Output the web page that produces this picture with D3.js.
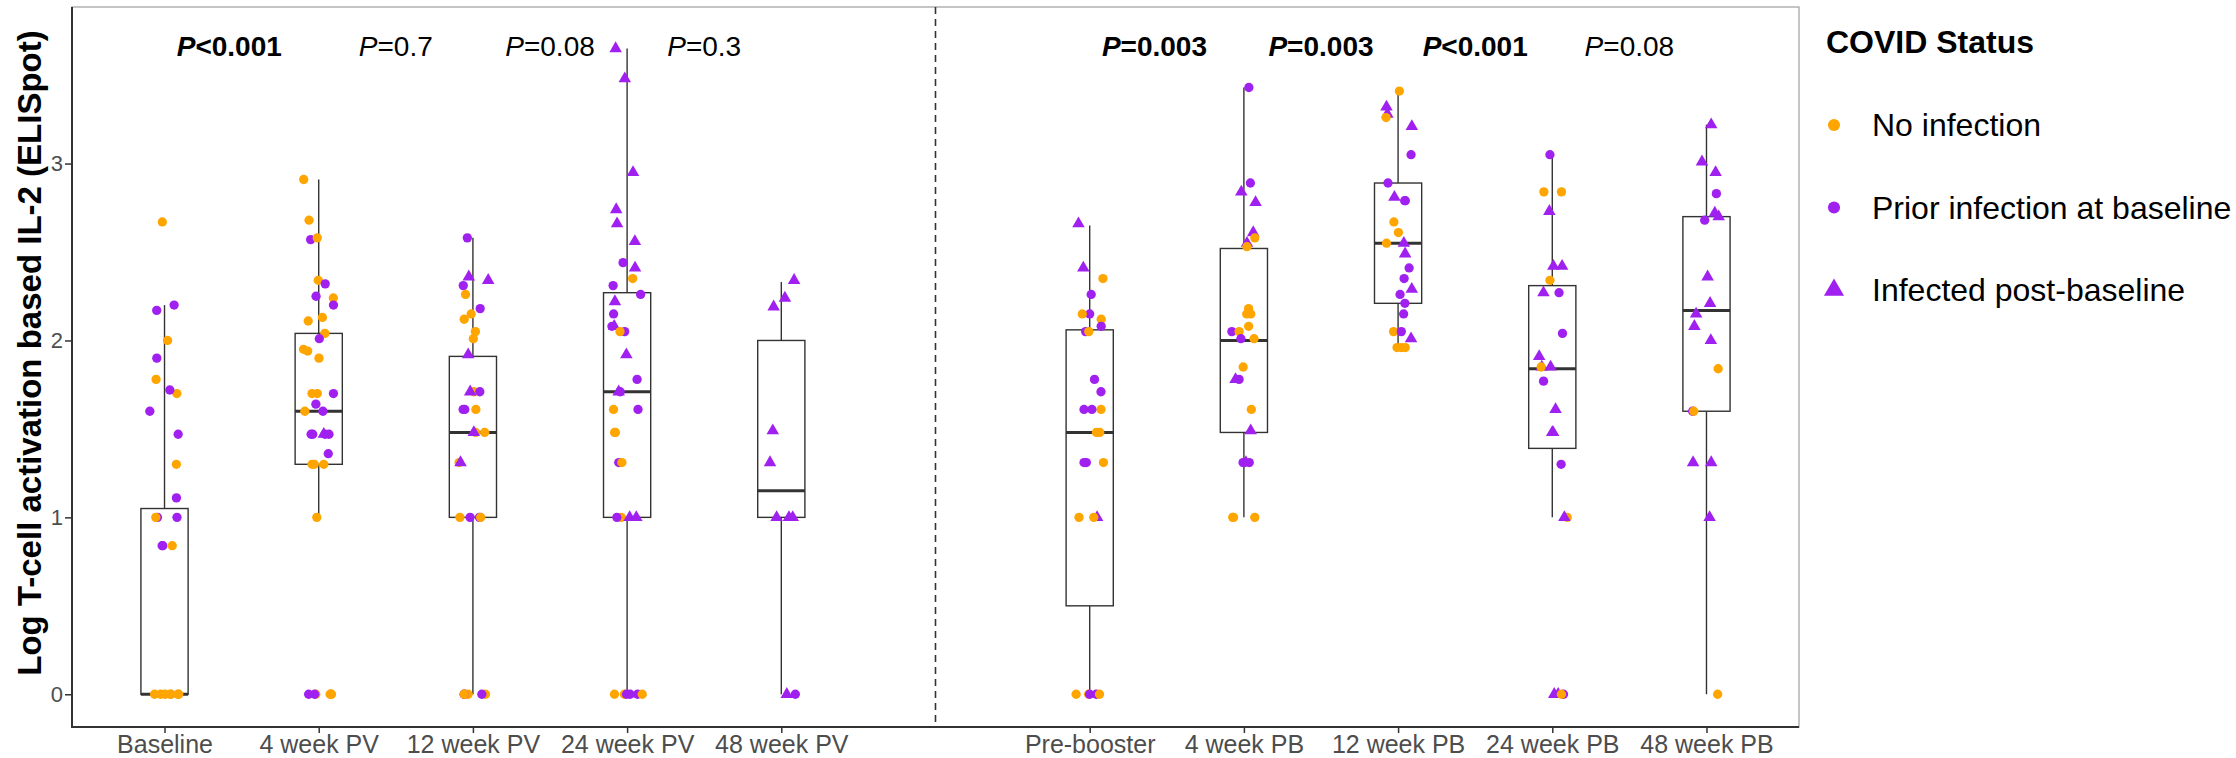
<!DOCTYPE html>
<html>
<head>
<meta charset="utf-8">
<script src="https://cdn.jsdelivr.net/npm/d3@7"></script>
<style>
  body { margin: 0; background: #fff; }
  text { font-family: "Liberation Sans", Arial, sans-serif; }
</style>
</head>
<body>
<svg id="chart" width="2236" height="758"></svg>
<script>
// x categories, 'gap' is the empty slot where the dashed line goes
var timepoints = ['Baseline', '4 week PV', '12 week PV', '24 week PV', '48 week PV', 'gap',
                  'Pre-booster', '4 week PB', '12 week PB', '24 week PB', '48 week PB'];
var groups = timepoints.filter(function(d) { return d !== 'gap'; });

// N = no infection, P = prior infection at baseline, T = infected post-baseline
var baselineVals = [['N',2.67],['P',2.20],['P',2.17],['N',2.00],['P',1.90],['N',1.78],['N',1.70],['P',1.72],
  ['P',1.60],['P',1.47],['N',1.30],['P',1.11],['P',1.00],['P',1.00],['N',1.00],['P',0.84],['P',0.84],['N',0.84],
  ['N',0],['N',0],['N',0],['N',0],['N',0],['N',0],['N',0]];
var pv4Vals = [['N',2.91],['N',2.68],['P',2.57],['N',2.58],['N',2.34],['P',2.32],['P',2.25],['N',2.24],['P',2.20],
  ['N',2.13],['N',2.11],['N',2.04],['P',2.01],['N',1.95],['N',1.94],['N',1.90],['N',1.70],['P',1.70],['N',1.70],
  ['P',1.64],['P',1.60],['N',1.60],['T',1.47],['P',1.47],['P',1.47],['P',1.47],['P',1.47],['P',1.36],['N',1.30],
  ['N',1.30],['N',1.30],['N',1.00],['P',0],['N',0],['N',0],['N',0],['N',0],['P',0]];
var pv12Vals = [['P',2.58],['T',2.36],['T',2.34],['P',2.31],['N',2.26],['P',2.18],['N',2.15],['N',2.12],['N',2.05],
  ['N',2.01],['T',1.92],['N',1.71],['T',1.71],['P',1.71],['P',1.61],['P',1.61],['N',1.61],['N',1.48],['N',1.48],
  ['T',1.48],['N',1.31],['T',1.31],['P',1.00],['P',1.00],['N',1.00],['N',1.00],['N',0],['N',0],['P',0],['N',0],
  ['P',0],['N',0]];
var pv24Vals = [['T',3.65],['T',3.48],['T',2.95],['T',2.74],['T',2.66],['T',2.56],['P',2.44],['T',2.41],['N',2.35],
  ['P',2.31],['P',2.26],['T',2.22],['P',2.15],['P',2.08],['T',2.08],['P',2.05],['N',2.05],['T',1.92],['P',1.78],
  ['T',1.71],['P',1.71],['P',1.61],['N',1.61],['N',1.48],['N',1.48],['P',1.31],['N',1.31],['N',1.00],['T',1.00],
  ['T',1.00],['P',1.00],['N',0],['N',0],['P',0],['P',0],['P',0],['N',0]];
var pv48Vals = [['T',2.34],['T',2.24],['T',2.19],['T',1.49],['T',1.31],['T',1.00],['T',1.00],['T',1.00],['T',0],['P',0]];
var preBoosterVals = [['T',2.66],['T',2.41],['N',2.35],['P',2.26],['P',2.15],['N',2.15],['N',2.12],['P',2.08],
  ['P',2.05],['N',2.05],['P',1.78],['P',1.71],['N',1.61],['P',1.61],['P',1.61],['N',1.48],['N',1.48],['P',1.31],
  ['P',1.31],['N',1.31],['T',1.00],['N',1.00],['N',1.00],['N',0],['P',0],['N',0],['N',0],['P',0]];
var pb4Vals = [['P',3.43],['P',2.89],['T',2.84],['T',2.78],['T',2.61],['N',2.58],['T',2.55],['N',2.53],['N',2.18],
  ['N',2.15],['N',2.15],['N',2.08],['P',2.05],['N',2.05],['N',2.01],['P',2.01],['N',1.85],['P',1.78],['T',1.78],
  ['N',1.61],['T',1.49],['T',1.31],['P',1.31],['P',1.31],['P',1.31],['N',1.00],['N',1.00],['N',1.00]];
var pb12Vals = [['N',3.41],['T',3.32],['T',3.28],['N',3.26],['T',3.21],['P',3.05],['P',2.89],['T',2.81],['P',2.79],
  ['P',2.79],['N',2.67],['N',2.61],['N',2.55],['T',2.55],['T',2.49],['P',2.41],['P',2.35],['T',2.29],['P',2.26],
  ['P',2.21],['P',2.15],['N',2.05],['P',2.05],['T',2.01],['N',1.96],['N',1.96],['N',1.96]];
var pb24Vals = [['P',3.05],['N',2.84],['N',2.84],['T',2.73],['T',2.42],['T',2.42],['N',2.34],['T',2.27],['P',2.27],
  ['P',2.04],['T',1.91],['T',1.85],['T',1.85],['N',1.85],['P',1.77],['T',1.61],['T',1.48],['T',1.48],['P',1.30],
  ['N',1.00],['T',1.00],['P',0],['T',0],['T',0],['N',0]];
var pb48Vals = [['T',3.22],['T',3.01],['T',2.95],['P',2.83],['T',2.72],['T',2.70],['P',2.68],['T',2.36],['T',2.21],
  ['T',2.15],['T',2.08],['T',2.00],['N',1.84],['P',1.60],['N',1.60],['T',1.31],['T',1.31],['T',1.00],['N',0]];

var groupVals = [baselineVals, pv4Vals, pv12Vals, pv24Vals, pv48Vals,
                 preBoosterVals, pb4Vals, pb12Vals, pb24Vals, pb48Vals];

// boxplot stats
var boxQ1     = [0,    1.30, 1.00, 1.00, 1.00, 0.50, 1.48, 2.21, 1.39, 1.60];
var boxMedian = [0,    1.60, 1.48, 1.71, 1.15, 1.48, 2.00, 2.55, 1.84, 2.17];
var boxQ3     = [1.05, 2.04, 1.91, 2.27, 2.00, 2.06, 2.52, 2.89, 2.31, 2.70];
var whiskLo   = [0,    1.00, 0,    0,    0,    0,    1.00, 1.96, 1.00, 0];
var whiskHi   = [2.20, 2.91, 2.58, 3.65, 2.33, 2.65, 3.43, 3.41, 3.05, 3.22];

var yTicks = [0, 1, 2, 3];

// p values between neighbouring timepoints
var pText = ['<0.001', '=0.7', '=0.08', '=0.3', '=0.003', '=0.003', '<0.001', '=0.08'];
var pBold = [true, false, false, false, true, true, true, false];
var pFrom = ['Baseline', '4 week PV', '12 week PV', '24 week PV', 'Pre-booster', '4 week PB', '12 week PB', '24 week PB'];
var pTo   = ['4 week PV', '12 week PV', '24 week PV', '48 week PV', '4 week PB', '12 week PB', '24 week PB', '48 week PB'];
var pLabelY = 3.61;

var statusKeys = ['N', 'P', 'T'];
var statusLabels = ['No infection', 'Prior infection at baseline', 'Infected post-baseline'];
var statusColors = ['#FFA500', '#A020F0', '#A020F0'];

// ---- layout (panel edges)
var padL = 72, padR = 1799, padT = 7, padB = 727;
var svg = d3.select('#chart');

svg.append('rect').attr('width', 2236).attr('height', 758).attr('fill', '#fff');

var x = d3.scalePoint().domain(timepoints).range([padL, padR]).padding(0.6);
var y = d3.scaleLinear().domain([-0.185, 3.885]).range([padB, padT]);
var color = d3.scaleOrdinal().domain(statusKeys).range(statusColors);
var boxHalf = x.step() * 0.153;
var jitterW = x.step() * 0.1;

// panel border
svg.append('rect')
    .attr('x', padL).attr('y', padT)
    .attr('width', padR - padL).attr('height', padB - padT)
    .attr('fill', 'none')
    .attr('stroke', '#a6a6a6')
    .attr('stroke-width', 1.3);

// dashed separator
svg.append('line')
    .attr('x1', x('gap')).attr('x2', x('gap'))
    .attr('y1', padT).attr('y2', padB)
    .attr('stroke', '#333')
    .attr('stroke-width', 1.6)
    .attr('stroke-dasharray', '7,5');

// axes
var yAxis = svg.append('g')
    .attr('transform', 'translate(' + padL + ',0)')
    .call(d3.axisLeft(y).tickValues(yTicks).tickSize(7).tickPadding(2).tickFormat(d3.format('d')));
var xAxis = svg.append('g')
    .attr('transform', 'translate(0,' + padB + ')')
    .call(d3.axisBottom(x).tickValues(groups).tickSize(6).tickPadding(2));

[yAxis, xAxis].forEach(function(ax) {
    ax.select('.domain').remove();
    ax.selectAll('line').attr('stroke', '#333').attr('stroke-width', 1.5);
    ax.selectAll('text')
        .attr('fill', '#4d4d4d')
        .style('font-family', '"Liberation Sans", Arial, sans-serif');
});
yAxis.selectAll('text').style('font-size', '22px');
xAxis.selectAll('text').style('font-size', '25px');

svg.append('line')
    .attr('x1', padL).attr('x2', padL).attr('y1', padT).attr('y2', padB + 1)
    .attr('stroke', '#333').attr('stroke-width', 2);
svg.append('line')
    .attr('x1', padL - 1).attr('x2', padR).attr('y1', padB).attr('y2', padB)
    .attr('stroke', '#333').attr('stroke-width', 2);

// y title
svg.append('text')
    .attr('transform', 'translate(41,353) rotate(-90)')
    .attr('text-anchor', 'middle')
    .style('font-size', '33px')
    .style('font-weight', 'bold')
    .attr('fill', '#000')
    .text('Log T-cell activation based IL-2 (ELISpot)');

// ---- boxplots
var boxes = svg.append('g').selectAll('g')
    .data(groups)
    .enter().append('g');

boxes.append('line')
    .attr('x1', function(d) { return x(d); })
    .attr('x2', function(d) { return x(d); })
    .attr('y1', function(d, i) { return y(whiskHi[i]); })
    .attr('y2', function(d, i) { return y(boxQ3[i]); })
    .attr('stroke', '#333').attr('stroke-width', 1.4);
boxes.append('line')
    .attr('x1', function(d) { return x(d); })
    .attr('x2', function(d) { return x(d); })
    .attr('y1', function(d, i) { return y(boxQ1[i]); })
    .attr('y2', function(d, i) { return y(whiskLo[i]); })
    .attr('stroke', '#333').attr('stroke-width', 1.4);
boxes.append('rect')
    .attr('x', function(d) { return x(d) - boxHalf; })
    .attr('y', function(d, i) { return y(boxQ3[i]); })
    .attr('width', boxHalf * 2)
    .attr('height', function(d, i) { return y(boxQ1[i]) - y(boxQ3[i]); })
    .attr('fill', '#fff')
    .attr('stroke', '#333').attr('stroke-width', 1.4);
boxes.append('line')
    .attr('x1', function(d) { return x(d) - boxHalf; })
    .attr('x2', function(d) { return x(d) + boxHalf; })
    .attr('y1', function(d, i) { return y(boxMedian[i]); })
    .attr('y2', function(d, i) { return y(boxMedian[i]); })
    .attr('stroke', '#333').attr('stroke-width', 3);

// ---- jittered points (seeded so it is the same each time)
var rnd = d3.randomUniform.source(d3.randomLcg(0.4217))(-1, 1);
var pts = [];
groupVals.forEach(function(vals, gi) {
    vals.forEach(function(v) {
        pts.push({ group: groups[gi], status: v[0], value: v[1], jit: rnd() * jitterW });
    });
});

var circleSym = d3.symbol().type(d3.symbolCircle).size(68);
var triSym = d3.symbol().type(d3.symbolTriangle).size(68);

svg.append('g').selectAll('path')
    .data(pts)
    .enter().append('path')
    .attr('d', function(d) { return d.status === 'T' ? triSym() : circleSym(); })
    .attr('transform', function(d) {
        return 'translate(' + (x(d.group) + d.jit) + ',' + y(d.value) + ')';
    })
    .attr('fill', function(d) { return color(d.status); });

// ---- p values
// the first label of each half sits a little left of the midpoint in the original
var pShift = function(i) { return (i === 0 || i === 4) ? -0.08 * x.step() : 0; };
var pLab = svg.append('g').selectAll('text')
    .data(pText)
    .enter().append('text')
    .attr('x', function(d, i) { return (x(pFrom[i]) + x(pTo[i])) / 2 + pShift(i); })
    .attr('y', y(pLabelY))
    .attr('text-anchor', 'middle')
    .style('font-size', '28px')
    .style('font-weight', function(d, i) { return pBold[i] ? 'bold' : 'normal'; });
pLab.append('tspan').style('font-style', 'italic').text('P');
pLab.append('tspan').text(function(d) { return d; });

// ---- legend
var lg = svg.append('g').attr('transform', 'translate(1826,0)');
lg.append('text')
    .attr('x', 0).attr('y', 53)
    .style('font-size', '32px')
    .style('font-weight', 'bold')
    .text('COVID Status');

var items = lg.selectAll('g.item')
    .data(statusKeys)
    .enter().append('g')
    .attr('class', 'item')
    .attr('transform', function(d, i) { return 'translate(0,' + (125 + i * 82.5) + ')'; });
items.append('path')
    .attr('d', function(d) {
        return d === 'T' ? d3.symbol().type(d3.symbolTriangle).size(175)()
                         : d3.symbol().type(d3.symbolCircle).size(115)();
    })
    .attr('transform', 'translate(8,0)')
    .attr('fill', function(d) { return color(d); });
items.append('text')
    .attr('x', 46).attr('y', 11)
    .style('font-size', '32px')
    .text(function(d, i) { return statusLabels[i]; });
</script>
</body>
</html>
